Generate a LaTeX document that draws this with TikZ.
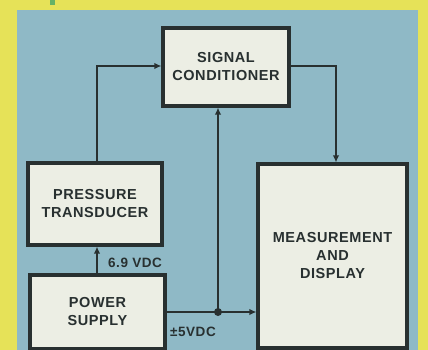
\documentclass[tikz,border=0pt]{standalone}
\usepackage{fontspec}
\setmainfont{Liberation Sans}[LetterSpace=4]
\usetikzlibrary{arrows.meta}
\definecolor{bgyellow}{RGB}{230,226,88}
\definecolor{bgblue}{RGB}{143,185,198}
\definecolor{boxfill}{RGB}{236,238,228}
\definecolor{ink}{RGB}{40,48,48}
\tikzset{
  blockbox/.style={draw=ink, line width=3.2pt, fill=boxfill, align=center, inner sep=0pt,
     font=\fontsize{14.5}{18}\selectfont\bfseries, text=ink},
  conn/.style={draw=ink, line width=1.6pt},
  arr/.style={conn, -{Latex[length=7pt,width=6.5pt]}},
  lbl/.style={font=\fontsize{13.5}{15}\selectfont\bfseries, text=ink, inner sep=0pt}
}
\begin{document}
\begin{tikzpicture}[x=1pt,y=-1pt]
\useasboundingbox (0,0) rectangle (428,350);
\clip (0,0) rectangle (428,350);
\fill[bgyellow] (0,0) rectangle (428,350);
\fill[bgblue] (17,10) rectangle (418,352);
\fill[green!50!black!60] (50,0) rectangle (55,5);
% boxes
\node[blockbox, minimum width=126pt, minimum height=78pt] (sig) at (226,67) {SIGNAL\\CONDITIONER};
\node[blockbox, minimum width=134pt, minimum height=82pt] (pt) at (95,204) {PRESSURE\\TRANSDUCER};
\node[blockbox, minimum width=135pt, minimum height=74pt] (ps) at (97.5,312) {POWER\\SUPPLY};
\node[blockbox, minimum width=149pt, minimum height=184pt] (md) at (332.5,256) {MEASUREMENT\\AND\\DISPLAY};
% connectors
\coordinate (j1) at (97,66);
\coordinate (j2) at (336,66);
\coordinate (dot) at (218,312);
\draw[arr] (pt.north -| j1) -- (j1) -- (sig.west |- j1);
\draw[arr] (sig.east |- j2) -- (j2) -- (md.north -| j2);
\draw[arr] (ps.north -| j1) -- (pt.south -| j1);
\draw[arr] (ps.east |- dot) -- (md.west |- dot);
\draw[arr] (dot) -- (sig.south -| dot);
\fill[ink] (dot) circle (4pt);
% labels
\node[lbl, anchor=west] (l1) at (108,263) {6.9 VDC};
\node[lbl, anchor=west] (l2) at (170,332) {±5VDC};
\end{tikzpicture}
\end{document}
